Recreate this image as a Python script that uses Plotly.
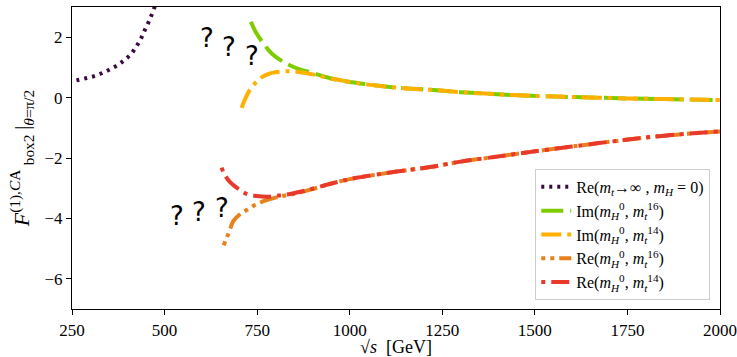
import plotly.graph_objects as go

# Re(mt->inf, mH=0)
s_inf = [262, 269, 290, 312, 335, 355, 375, 393, 410, 423, 435, 444, 455, 463, 472, 476]
re_inf = [0.57, 0.59, 0.65, 0.72, 0.83, 0.95, 1.09, 1.26, 1.45, 1.68, 1.92, 2.17, 2.45, 2.68, 2.96, 3.1]

# Im(mH^0, mt^16)
s_im16 = [733, 745, 767, 790, 821, 855, 893, 930, 965, 1000, 1050, 1127, 1217, 1300, 1400, 1487, 1600, 1757, 1850, 2000]
im16 = [2.51, 2.2, 1.79, 1.45, 1.18, 0.98, 0.84, 0.70, 0.59, 0.52, 0.43, 0.33, 0.26, 0.18, 0.11, 0.06, 0.02, -0.03, -0.05, -0.08]

# Im(mH^0, mt^14)
s_im14 = [708, 715, 731, 748, 767, 790, 821, 845, 866, 900, 950, 1000, 1050, 1127, 1217, 1300, 1400, 1487, 1600, 1757, 1850, 2000]
im14 = [-0.34, -0.12, 0.27, 0.52, 0.71, 0.82, 0.87, 0.87, 0.84, 0.77, 0.63, 0.52, 0.43, 0.33, 0.26, 0.18, 0.11, 0.06, 0.02, -0.03, -0.05, -0.08]

# Re(mH^0, mt^16)
s_re16 = [660, 664, 669, 677, 686, 705, 726, 745, 767, 810, 857, 900, 946, 1000, 1127, 1217, 1300, 1400, 1487, 1600, 1757, 1850, 2000]
re16 = [-4.89, -4.75, -4.61, -4.35, -4.08, -3.85, -3.69, -3.55, -3.43, -3.28, -3.17, -3.03, -2.86, -2.70, -2.45, -2.30, -2.12, -1.95, -1.80, -1.62, -1.38, -1.26, -1.12]

# Re(mH^0, mt^14)
s_re14 = [654, 662, 677, 700, 722, 750, 776, 805, 839, 880, 946, 1000, 1127, 1217, 1300, 1400, 1487, 1600, 1757, 1850, 2000]
re14 = [-2.32, -2.55, -2.80, -3.03, -3.19, -3.26, -3.28, -3.25, -3.19, -3.08, -2.86, -2.70, -2.45, -2.30, -2.12, -1.95, -1.80, -1.62, -1.38, -1.26, -1.12]

x_ticks = [250, 500, 750, 1000, 1250, 1500, 1750, 2000]
y_ticks = [-6, -4, -2, 0, 2]

# question-mark annotation positions (data coords)
q_s = [614, 674, 735, 534, 594, 654]
q_y = [1.98, 1.68, 1.37, -3.91, -3.80, -3.67]

SERIF = "Liberation Serif, Times New Roman, serif"

fig = go.Figure()
fig.add_trace(go.Scatter(x=s_inf, y=re_inf, mode="lines", line_shape="spline",
                         line=dict(color="#3b0a40", width=4, dash="3px,5px"),
                         name="Re(<i>m<sub>t</sub></i>→∞ , <i>m<sub>H</sub></i> = 0)"))
fig.add_trace(go.Scatter(x=s_im16, y=im16, mode="lines", line_shape="spline",
                         line=dict(color="#7ecb00", width=4, dash="22px,7px"),
                         name="Im(<i>m</i><sub><i>H</i></sub><sup>0</sup>, <i>m</i><sub><i>t</i></sub><sup>16</sup>)"))
fig.add_trace(go.Scatter(x=s_im14, y=im14, mode="lines", line_shape="spline",
                         line=dict(color="#ffb000", width=4, dash="20px,6px,4px,6px"),
                         name="Im(<i>m</i><sub><i>H</i></sub><sup>0</sup>, <i>m</i><sub><i>t</i></sub><sup>14</sup>)"))
fig.add_trace(go.Scatter(x=s_re16, y=re16, mode="lines", line_shape="spline",
                         line=dict(color="#e8801c", width=4, dash="4px,5px,4px,5px,18px,5px"),
                         name="Re(<i>m</i><sub><i>H</i></sub><sup>0</sup>, <i>m</i><sub><i>t</i></sub><sup>16</sup>)"))
fig.add_trace(go.Scatter(x=s_re14, y=re14, mode="lines", line_shape="spline",
                         line=dict(color="#e8392a", width=4, dash="4px,6px,18px,6px"),
                         name="Re(<i>m</i><sub><i>H</i></sub><sup>0</sup>, <i>m</i><sub><i>t</i></sub><sup>14</sup>)"))

for xs, ys in zip(q_s, q_y):
    fig.add_annotation(x=xs, y=ys, xref="x", yref="y", text="?", showarrow=False,
                       font=dict(family="DejaVu Sans", size=26, color="black"))

axis_common = dict(showline=True, linecolor="black", linewidth=1.2, mirror=True,
                   ticks="outside", ticklen=5, tickcolor="black", showgrid=False,
                   zeroline=False, automargin=False,
                   tickfont=dict(family=SERIF, size=17, color="black"))

ytitle = "<i>F</i><sup>(1),<i>C</i>A</sup>\u2009<sub>box2</sub>\u2009|<sub><i>θ</i>=π/2</sub>"

fig.update_layout(
    width=737, height=357,
    margin=dict(l=72, r=17, t=7, b=48),
    plot_bgcolor="white", paper_bgcolor="white",
    showlegend=True,
    legend=dict(x=0.985, y=0.03, xanchor="right", yanchor="bottom",
                bgcolor="rgba(255,255,255,0.9)", bordercolor="#cccccc", borderwidth=1,
                font=dict(family=SERIF, size=16, color="black"), tracegroupgap=0),
    xaxis=dict(range=[250, 2000], tickvals=x_ticks,
               title=dict(text="√<i>s</i>  [GeV]", standoff=9,
                          font=dict(family=SERIF, size=18, color="black")),
               **axis_common),
    yaxis=dict(range=[-7, 3], tickvals=y_ticks,
               title=dict(text=ytitle, standoff=8,
                          font=dict(family=SERIF, size=22, color="black")),
               **axis_common),
)

fig.write_html("out.html")
